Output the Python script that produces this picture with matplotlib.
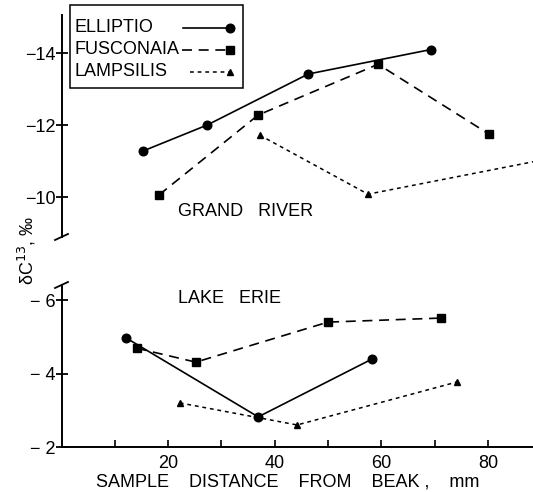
import matplotlib
matplotlib.use("Agg")
import matplotlib.pyplot as plt
from matplotlib.lines import Line2D
from matplotlib.patches import Rectangle

# ---- data ----
series = ["ELLIPTIO", "FUSCONAIA", "LAMPSILIS"]

# Grand River
gr_elliptio_x = [15.3, 27.3, 46.3, 69.3]
gr_elliptio_y = [-11.28, -12.0, -13.42, -14.1]
gr_fusconaia_x = [18.3, 36.9, 59.4, 80.2]
gr_fusconaia_y = [-10.06, -12.28, -13.69, -11.75]
gr_lampsilis_x = [37.2, 57.5, 95.0]
gr_lampsilis_y = [-11.72, -10.08, -11.17]

# Lake Erie
le_elliptio_x = [12.1, 36.9, 58.2]
le_elliptio_y = [-4.97, -2.82, -4.39]
le_fusconaia_x = [14.1, 25.2, 50.0, 71.2]
le_fusconaia_y = [-4.69, -4.31, -5.40, -5.51]
le_lampsilis_x = [22.2, 44.2, 74.2]
le_lampsilis_y = [-3.20, -2.60, -3.77]

upper_ticks = [-14, -12, -10]
lower_ticks = [-6, -4, -2]
x_ticks_major = [20, 40, 60, 80]
x_ticks_minor = [10, 30, 50, 70]

W, H = 533, 492
FS = 13
plt.rcParams['font.family'] = ['Liberation Sans', 'DejaVu Sans']

fig = plt.figure(figsize=(W / 100, H / 100), dpi=100)

def fx(x):
    return x / W

def fy(y):
    return 1 - y / H

left = fx(61.5)
ax_u = fig.add_axes([left, fy(237), 1 - left, fy(15) - fy(237)])
ax_l = fig.add_axes([left, fy(447), 1 - left, fy(285) - fy(447)])

styles = {
    "ELLIPTIO": dict(color="black", lw=1.2, ls="-", marker="o", ms=6.2),
    "FUSCONAIA": dict(color="black", lw=1.2, ls=(0, (6, 4)), marker="s", ms=5.2),
    "LAMPSILIS": dict(color="black", lw=1.1, ls=(0, (2.5, 2.5)), marker="^", ms=3.8),
}

ax_u.plot(gr_elliptio_x, gr_elliptio_y, **styles["ELLIPTIO"])
ax_u.plot(gr_fusconaia_x, gr_fusconaia_y, **styles["FUSCONAIA"])
ax_u.plot(gr_lampsilis_x, gr_lampsilis_y, **styles["LAMPSILIS"])

ax_l.plot(le_elliptio_x, le_elliptio_y, **styles["ELLIPTIO"])
ax_l.plot(le_fusconaia_x, le_fusconaia_y, **styles["FUSCONAIA"])
ax_l.plot(le_lampsilis_x, le_lampsilis_y, **styles["LAMPSILIS"])

xmax = (533 - 61.5) / 5.33
for ax in (ax_u, ax_l):
    ax.set_xlim(0, xmax)
    ax.set_facecolor("none")
    for s in ("top", "right"):
        ax.spines[s].set_visible(False)
    ax.spines["left"].set_linewidth(1.4)
    ax.spines["bottom"].set_linewidth(1.4)
    ax.tick_params(axis="y", direction="inout", length=8, width=1.3,
                   pad=0, labelsize=FS)

ax_u.set_ylim(-8.89, -15.06)
ax_l.set_ylim(-2.0, -6.41)

ax_u.spines["bottom"].set_visible(False)
ax_u.set_xticks([])
ax_u.set_yticks(upper_ticks)
ax_u.set_yticklabels(["\u2212" + str(abs(t)) for t in upper_ticks])
ax_l.set_yticks(lower_ticks)
ax_l.set_yticklabels(["\u2212 " + str(abs(t)) for t in lower_ticks])

ax_l.set_xticks(x_ticks_major)
ax_l.set_xticks(x_ticks_minor, minor=True)
ax_l.tick_params(axis="x", which="both", direction="in", length=5, width=1.2,
                 pad=6, labelsize=FS)

ax_u.text(21.9, -9.61, "GRAND   RIVER", fontsize=FS, ha="left", va="center")
ax_l.text(21.9, -6.05, "LAKE   ERIE", fontsize=FS, ha="left", va="center")

fig.text(fx(288), fy(482), "SAMPLE    DISTANCE    FROM    BEAK ,    mm",
         fontsize=FS, ha="center", va="center")

fig.text(fx(27), fy(250), "\u03b4C$^{13}$, \u2030", rotation=90, fontsize=FS,
         ha="center", va="center")

# axis break marks
for yb in (237, 285):
    fig.add_artist(Line2D([fx(55), fx(68)], [fy(yb + 3), fy(yb - 3)],
                          color="black", lw=1.3))

# legend box
fig.add_artist(Rectangle((fx(70), fy(88)), fx(243) - fx(70), fy(5) - fy(88),
                         fill=True, facecolor="white", edgecolor="black",
                         lw=1.1, transform=fig.transFigure, zorder=5))
rows = [(28, "ELLIPTIO", 183), (50, "FUSCONAIA", 182), (72, "LAMPSILIS", 190)]
for yy, name, x0 in rows:
    fig.text(fx(75), fy(yy), name, fontsize=FS, ha="left", va="center", zorder=6)
    st = dict(styles[name])
    fig.add_artist(Line2D([fx(x0), fx(230)], [fy(yy), fy(yy)],
                          color="black", lw=st["lw"], ls=st["ls"], zorder=6))
    fig.add_artist(Line2D([fx(230)], [fy(yy)], color="black", ls="none",
                          marker=st["marker"], ms=st["ms"], zorder=6))

fig.savefig("out.png", dpi=100)
